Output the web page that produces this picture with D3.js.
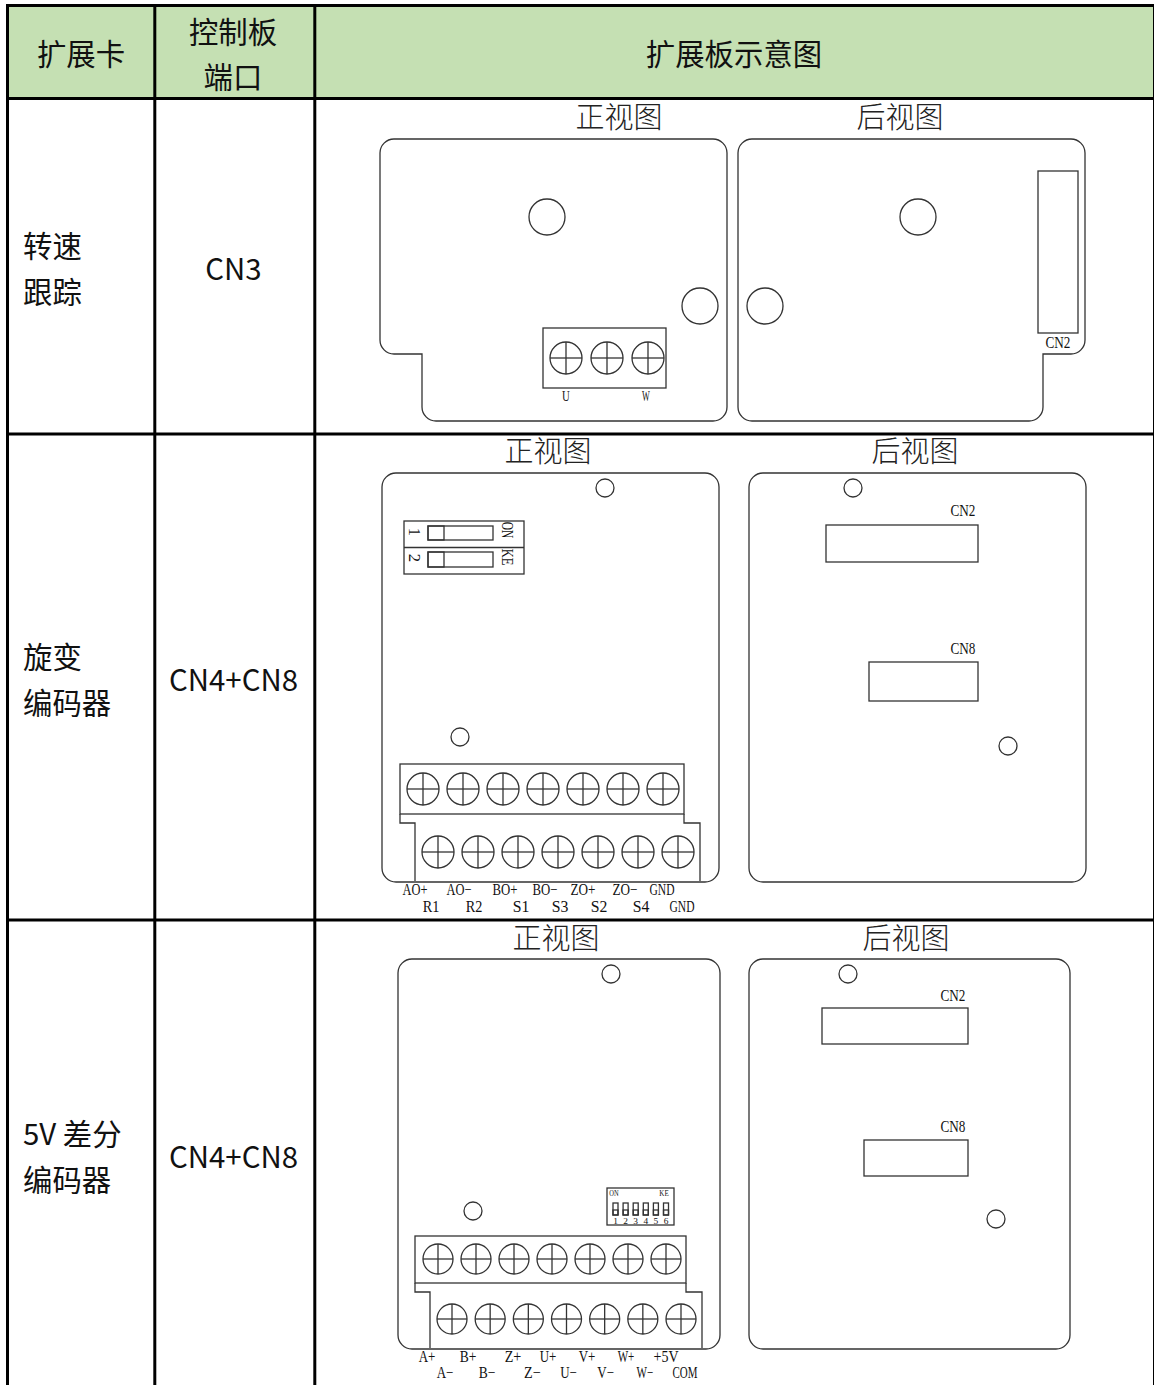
<!DOCTYPE html>
<html>
<head>
<meta charset="utf-8">
<script src="https://cdn.jsdelivr.net/npm/d3@7/dist/d3.min.js"></script>
<style>
html, body { margin: 0; padding: 0; background: #fff; }
svg { display: block; }
.cell { font-family: "Noto Sans CJK SC", "Noto Sans", sans-serif; font-size: 29.4px; fill: #111; }
.title { font-family: "Noto Sans CJK SC", sans-serif; font-size: 29px; font-weight: 300; fill: #222; }
.pin { font-family: "Liberation Serif", serif; font-size: 16px; fill: #111; }
.part { fill: none; stroke: #333; stroke-width: 1.3; }
</style>
</head>
<body>
<div id="main"></div>
<script>
// table text
const headers = ["扩展卡", "扩展板示意图"];
const headerPort = ["控制板", "端口"];
const cardNames = [["转速", "跟踪"], ["旋变", "编码器"], ["5V 差分", "编码器"]];
const ports = ["CN3", "CN4+CN8", "CN4+CN8"];
const viewTitles = ["正视图", "后视图"];

// terminal labels
const resolverTop = ["AO+", "AO−", "BO+", "BO−", "ZO+", "ZO−", "GND"];
const resolverBottom = ["R1", "R2", "S1", "S3", "S2", "S4", "GND"];
const diffTop = ["A+", "B+", "Z+", "U+", "V+", "W+", "+5V"];
const diffBottom = ["A−", "B−", "Z−", "U−", "V−", "W−", "COM"];
const speedLabels = ["U", "", "W"];
const dipDigits = ["1", "2", "3", "4", "5", "6"];

const width = 1154, height = 1385;

const svg = d3.select("#main").append("svg")
    .attr("width", width)
    .attr("height", height);

// header background and grid lines
svg.append("rect").attr("x", 8).attr("y", 6).attr("width", 1145).attr("height", 92).attr("fill", "#c5e0b3");

const colLines = [7.5, 154.8, 314.8];
const rowLines = [5.5, 98.5, 434, 920];
svg.selectAll("line.col").data(colLines).join("line")
    .attr("x1", d => d).attr("x2", d => d).attr("y1", 4).attr("y2", height)
    .attr("stroke", "#000").attr("stroke-width", 3);
svg.selectAll("line.row").data(rowLines).join("line")
    .attr("x1", 6).attr("x2", 1153).attr("y1", d => d).attr("y2", d => d)
    .attr("stroke", "#000").attr("stroke-width", 3);
svg.append("line").attr("x1", 1153.5).attr("x2", 1153.5).attr("y1", 4).attr("y2", height)
    .attr("stroke", "#000").attr("stroke-width", 1);

function cellText(txt, x, y, anchor) {
    svg.append("text").attr("class", "cell")
        .attr("x", x).attr("y", y)
        .attr("text-anchor", anchor || "middle")
        .attr("dominant-baseline", "central")
        .text(txt);
}

cellText(headers[0], 81, 52);
cellText(headers[1], 734, 52);
cellText(headerPort[0], 233, 30);
cellText(headerPort[1], 233, 75);

const nameRows = [[244, 290], [655, 701], [1132, 1178]];
const portRows = [267, 678, 1155];
cardNames.forEach(function (lines, i) {
    lines.forEach(function (t, j) { cellText(t, 23, nameRows[i][j], "start"); });
    cellText(ports[i], 233.5, portRows[i]);
});

function viewTitle(i, x, y) {
    svg.append("text").attr("class", "title")
        .attr("x", x).attr("y", y)
        .attr("text-anchor", "middle")
        .attr("dominant-baseline", "central")
        .text(viewTitles[i]);
}

function part(g) { return g.attr("class", "part"); }

// plain rounded board
function board(x0, y0, x1, y1) {
    part(svg.append("rect")).attr("x", x0).attr("y", y0)
        .attr("width", x1 - x0).attr("height", y1 - y0).attr("rx", 14);
}

function hole(x, y, r) {
    part(svg.append("circle")).attr("cx", x).attr("cy", y).attr("r", r);
}

function box(x0, y0, x1, y1) {
    part(svg.append("rect")).attr("x", x0).attr("y", y0).attr("width", x1 - x0).attr("height", y1 - y0);
}

// labels are squeezed to the narrow half width look of the original
function pinText(txt, x, y, size, rotate) {
    const s = size || 16;
    const t = svg.append("text").attr("class", "pin")
        .attr("x", x).attr("y", y)
        .attr("text-anchor", "middle")
        .attr("dominant-baseline", "central")
        .attr("textLength", txt.length * s * 0.52)
        .attr("lengthAdjust", "spacingAndGlyphs")
        .style("font-size", s + "px")
        .text(txt);
    if (rotate) t.attr("transform", `rotate(90 ${x} ${y})`);
}

// a row of screws placed with a point scale
function screws(labels, x0, x1, y, r) {
    const x = d3.scalePoint().domain(d3.range(labels.length)).range([x0, x1]);
    const g = svg.append("g").selectAll("g").data(labels).join("g");
    g.append("circle").attr("class", "part")
        .attr("cx", (d, i) => x(i)).attr("cy", y).attr("r", r);
    g.append("line").attr("class", "part")
        .attr("x1", (d, i) => x(i) - r).attr("x2", (d, i) => x(i) + r).attr("y1", y).attr("y2", y);
    g.append("line").attr("class", "part")
        .attr("x1", (d, i) => x(i)).attr("x2", (d, i) => x(i)).attr("y1", y - r).attr("y2", y + r);
    return x;
}

function pinRow(labels, x, nudge, y) {
    labels.forEach(function (t, i) { if (t) pinText(t, x(i) + nudge[i], y); });
}

// two level terminal block outline
function terminal(x0, x1, y0, y1, step, lx, rx, yEnd) {
    box(x0, y0, x1, y1);
    const p = d3.path();
    p.moveTo(x0, y1); p.lineTo(x0, step); p.lineTo(lx, step); p.lineTo(lx, yEnd);
    p.moveTo(x1, y1); p.lineTo(x1, step); p.lineTo(rx, step); p.lineTo(rx, yEnd);
    part(svg.append("path")).attr("d", p.toString());
}

// ---- speed tracking row ----
viewTitle(0, 619, 115);
viewTitle(1, 900, 115);

const front = d3.path();
front.moveTo(380, 153); front.arcTo(380, 139, 394, 139, 14);
front.lineTo(713, 139); front.arcTo(727, 139, 727, 153, 14);
front.lineTo(727, 407); front.arcTo(727, 421, 713, 421, 14);
front.lineTo(436, 421); front.arcTo(422, 421, 422, 407, 14);
front.lineTo(422, 354); front.lineTo(394, 354); front.arcTo(380, 354, 380, 340, 14);
front.closePath();
part(svg.append("path")).attr("d", front.toString());

const back = d3.path();
back.moveTo(738, 153); back.arcTo(738, 139, 752, 139, 14);
back.lineTo(1071, 139); back.arcTo(1085, 139, 1085, 153, 14);
back.lineTo(1085, 340); back.arcTo(1085, 354, 1071, 354, 14);
back.lineTo(1043, 354); back.lineTo(1043, 407); back.arcTo(1043, 421, 1029, 421, 14);
back.lineTo(752, 421); back.arcTo(738, 421, 738, 407, 14);
back.closePath();
part(svg.append("path")).attr("d", back.toString());

hole(547, 217, 18);
hole(700, 306, 18);
hole(918, 217, 18);
hole(765, 306, 18);
box(543, 328, 666, 388);
const speedX = screws(speedLabels, 566, 648, 358, 16);
pinText(speedLabels[0], speedX(0), 396, 15);
pinText(speedLabels[2], speedX(2) - 2, 396, 15);
box(1038, 171, 1078, 333);
pinText("CN2", 1058, 342);

// ---- resolver row ----
viewTitle(0, 548, 449);
viewTitle(1, 915, 449);
board(382, 473, 719, 882);
board(749, 473, 1086, 882);
hole(605, 488, 9);
hole(460, 737, 9);
hole(853, 488, 9);
hole(1008, 746, 9);

box(404, 521, 524, 574);
part(svg.append("line")).attr("x1", 404).attr("x2", 524).attr("y1", 547.5).attr("y2", 547.5);
box(428, 526, 493, 540);
box(428, 552, 493, 567);
box(428, 526, 444, 540);
box(428, 552, 444, 567);
pinText("1", 414, 532, 16, true);
pinText("2", 414, 558, 16, true);
pinText("ON", 507, 530, 16, true);
pinText("KE", 507, 557, 16, true);

terminal(400, 684, 764, 814, 823, 415, 700, 881);
const resTopX = screws(resolverTop, 423, 663, 789, 16);
const resBotX = screws(resolverBottom, 438, 678, 852, 16);
pinRow(resolverTop, resTopX, [-8, -4, 2, 2, 0, 2, -1], 889);
pinRow(resolverBottom, resBotX, [-7, -4, 3, 2, 1, 3, 4], 906);

box(826, 525, 978, 562);
pinText("CN2", 963, 510);
box(869, 662, 978, 701);
pinText("CN8", 963, 648);

// ---- 5V differential row ----
viewTitle(0, 556, 936);
viewTitle(1, 906, 936);
board(398, 959, 720, 1349);
board(749, 959, 1070, 1349);
hole(611, 974, 9);
hole(473, 1211, 9);
hole(848, 974, 9);
hole(996, 1219, 9);

box(607, 1188, 674, 1225);
pinText("ON", 614, 1192.5, 9);
pinText("KE", 664, 1192.5, 9);
const dipX = d3.scalePoint().domain(dipDigits).range([615.5, 666]);
const dip = svg.append("g").selectAll("g").data(dipDigits).join("g");
dip.append("rect").attr("class", "part")
    .attr("x", d => dipX(d) - 2.5).attr("y", 1203).attr("width", 5).attr("height", 12);
dip.append("rect").attr("class", "part")
    .attr("x", d => dipX(d) - 2.5).attr("y", 1210).attr("width", 5).attr("height", 5);
dipDigits.forEach(function (d) { pinText(d, dipX(d), 1220.5, 9); });

terminal(415, 686, 1236, 1283, 1292, 430, 702, 1348);
const diffTopX = screws(diffTop, 438, 666, 1259, 15);
const diffBotX = screws(diffBottom, 452, 681, 1319, 15);
pinRow(diffTop, diffTopX, [-11, -8, -1, -4, -3, -2, 0], 1356);
pinRow(diffBottom, diffBotX, [-7, -3, 4, 2, 1, 2, 4], 1372);

box(822, 1008, 968, 1044);
pinText("CN2", 953, 995);
box(864, 1140, 968, 1176);
pinText("CN8", 953, 1126);
</script>
</body>
</html>
